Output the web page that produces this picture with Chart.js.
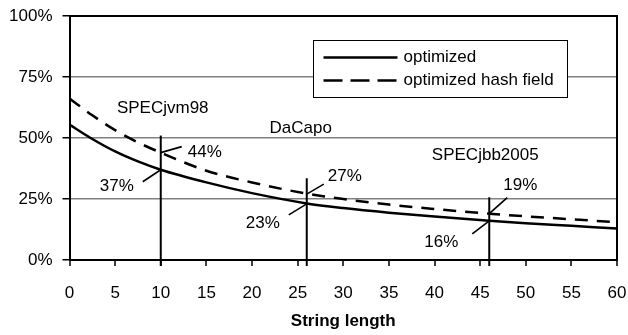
<!DOCTYPE html>
<html>
<head>
<meta charset="utf-8">
<script src="https://cdn.jsdelivr.net/npm/chart.js@4.4.0/dist/chart.umd.min.js"></script>
<style>
  body { margin: 0; background: #fff; }
</style>
</head>
<body>
<canvas id="chart" width="628" height="335"></canvas>
<script>
// string length (x) and overhead (% of y)
const lengths = [0, 2.5, 5, 7.5, 10, 15, 20, 26, 30, 35, 40, 46, 50, 55, 60]
const optimized = [55.5, 49.6, 44.5, 40.4, 37, 31.8, 27.4, 23.2, 21.3, 19.4, 17.8, 16.1, 15.1, 14, 12.9]
const optimizedHash = [66.2, 59.3, 53.2, 48.2, 44, 36.6, 31.8, 27.2, 25, 22.7, 20.9, 19, 17.9, 16.7, 15.5]

const xTicks = [0, 5, 10, 15, 20, 25, 30, 35, 40, 45, 50, 55, 60]
const yTicks = [0, 25, 50, 75, 100]

// average string length per benchmark
const benchmarks = ['SPECjvm98', 'DaCapo', 'SPECjbb2005']
const benchmarkLengths = [10, 26, 46]
const markerTops = [51, 33.5, 25.7]
const optimizedLabels = [37, 23, 16]
const hashLabels = [44, 27, 19]

const FONT = '"Liberation Sans", Arial, sans-serif'
Chart.defaults.font.family = FONT
Chart.defaults.font.size = 17
Chart.defaults.color = '#000'

// where the text sits around each marker (pixels / axis units)
const nameSpots = [{ dx: 2, y: 62.3 }, { dx: -6, y: 54.1 }, { dx: -4, y: 43 }]
const hashSpots = [{ lx: 21, ly: -6, tx: 44, ty: 0 }, { lx: 17, ly: -10, tx: 38, ty: -18 }, { lx: 18, ly: -16, tx: 31, ty: -28 }]
const optSpots = [{ lx: -18, ly: 12, tx: -44, ty: 17 }, { lx: -18, ly: 11, tx: -44, ty: 19 }, { lx: -17, ly: 13, tx: -48, ty: 21 }]
const legendBox = { x: 313.5, y: 40.5, w: 254, h: 57 }

const overlay = {
    id: 'overlay',
    afterDatasetsDraw(chart) {
        const { ctx, chartArea: area, scales: { x, y } } = chart
        ctx.save()
        ctx.strokeStyle = '#000'
        ctx.fillStyle = '#000'

        // frame: top and right edges
        ctx.lineWidth = 2
        ctx.beginPath()
        ctx.moveTo(area.left, area.top)
        ctx.lineTo(area.right, area.top)
        ctx.lineTo(area.right, area.bottom)
        ctx.stroke()

        ctx.font = '17px ' + FONT
        ctx.textAlign = 'center'
        ctx.textBaseline = 'middle'

        benchmarkLengths.forEach((len, i) => {
            const px = x.getPixelForValue(len)
            ctx.lineWidth = 2
            ctx.beginPath()
            ctx.moveTo(px, y.getPixelForValue(0) + 6)
            ctx.lineTo(px, y.getPixelForValue(markerTops[i]))
            ctx.stroke()

            ctx.fillText(benchmarks[i], px + nameSpots[i].dx, y.getPixelForValue(nameSpots[i].y))

            const pairs = [[hashLabels[i], hashSpots[i]], [optimizedLabels[i], optSpots[i]]]
            pairs.forEach(([v, s]) => {
                const py = y.getPixelForValue(v)
                ctx.lineWidth = 1.6
                ctx.beginPath()
                ctx.moveTo(px, py)
                ctx.lineTo(px + s.lx, py + s.ly)
                ctx.stroke()
                ctx.fillText(v + '%', px + s.tx, py + s.ty)
            })
        })
        ctx.restore()
    },
    afterDraw(chart) {
        const { ctx } = chart
        const b = legendBox
        ctx.save()
        ctx.fillStyle = '#fff'
        ctx.fillRect(b.x, b.y, b.w, b.h)
        ctx.strokeStyle = '#000'
        ctx.lineWidth = 1
        ctx.strokeRect(b.x, b.y, b.w, b.h)
        ctx.font = '17px ' + FONT
        ctx.fillStyle = '#000'
        ctx.textAlign = 'left'
        ctx.textBaseline = 'middle'
        chart.data.datasets.forEach((ds, i) => {
            const ly = b.y + 17 + i * 23
            ctx.lineWidth = 2.5
            ctx.setLineDash(ds.borderDash ? [19, 8] : [])
            ctx.beginPath()
            ctx.moveTo(b.x + 10, ly)
            ctx.lineTo(b.x + 84, ly)
            ctx.stroke()
            ctx.setLineDash([])
            ctx.fillText(ds.label, b.x + 90, ly)
        })
        ctx.restore()
    }
}

const toPoints = (vals) => lengths.map((l, i) => ({ x: l, y: vals[i] }))

new Chart(document.getElementById('chart'), {
    type: 'line',
    data: {
        datasets: [
            {
                label: 'optimized',
                data: toPoints(optimized),
                borderColor: '#000',
                borderWidth: 2.5,
                pointRadius: 0,
                cubicInterpolationMode: 'monotone',
                fill: false
            },
            {
                label: 'optimized hash field',
                data: toPoints(optimizedHash),
                borderColor: '#000',
                borderWidth: 2.5,
                borderDash: [13, 9],
                pointRadius: 0,
                cubicInterpolationMode: 'monotone',
                fill: false
            }
        ]
    },
    options: {
        responsive: false,
        animation: false,
        devicePixelRatio: 1,
        layout: { padding: { top: 16, right: 11, left: 0, bottom: 0 } },
        plugins: { legend: { display: false }, tooltip: { enabled: false } },
        scales: {
            x: {
                type: 'linear',
                min: 0,
                max: 60,
                afterBuildTicks: s => { s.ticks = xTicks.map(v => ({ value: v })) },
                afterFit: s => { s.height = 75; s.paddingLeft = 0; s.paddingRight = 0 },
                grid: {
                    color: 'rgba(0,0,0,0)',
                    lineWidth: 2,
                    tickLength: 6,
                    tickColor: '#000',
                    tickWidth: 1.5
                },
                border: { color: '#000', width: 2 },
                ticks: { color: '#000', padding: 17, maxRotation: 0 },
                title: {
                    display: true,
                    text: 'String length',
                    color: '#000',
                    font: { size: 17, weight: 'bold' },
                    padding: { top: 0, bottom: 3 }
                }
            },
            y: {
                min: 0,
                max: 100,
                afterBuildTicks: s => { s.ticks = yTicks.map(v => ({ value: v })) },
                afterFit: s => { s.width = 69.5; s.paddingTop = 0; s.paddingBottom = 0 },
                grid: {
                    color: c => (c.tick && c.tick.value === 100) ? 'rgba(0,0,0,0)' : '#808080',
                    lineWidth: 1.5,
                    tickLength: 7,
                    tickColor: '#000',
                    tickWidth: 1.5
                },
                border: { color: '#000', width: 2 },
                ticks: { color: '#000', padding: 10, callback: v => v + '%' }
            }
        }
    },
    plugins: [overlay]
})
</script>
</body>
</html>
